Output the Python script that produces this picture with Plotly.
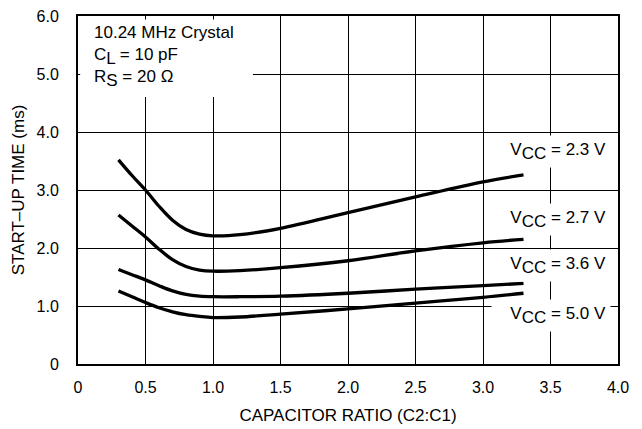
import plotly.graph_objects as go

# capacitor ratio C2:C1 (x) and start-up time in ms for each supply voltage
ratio = [0.3, 0.4, 0.5, 0.6, 0.7, 0.8, 0.9, 1.0, 1.2, 1.5, 2.0, 2.5, 3.0, 3.3]
t_vcc_23 = [3.52, 3.25, 3.00, 2.72, 2.48, 2.32, 2.24, 2.21, 2.23, 2.34, 2.61, 2.88, 3.14, 3.26]
t_vcc_27 = [2.57, 2.38, 2.19, 1.98, 1.80, 1.68, 1.62, 1.60, 1.61, 1.66, 1.78, 1.95, 2.09, 2.15]
t_vcc_36 = [1.63, 1.54, 1.45, 1.35, 1.26, 1.20, 1.17, 1.16, 1.16, 1.17, 1.22, 1.29, 1.35, 1.39]
t_vcc_50 = [1.26, 1.16, 1.06, 0.97, 0.90, 0.85, 0.82, 0.80, 0.81, 0.86, 0.95, 1.05, 1.15, 1.22]

series_names = ["2.3", "2.7", "3.6", "5.0"]
label_y = [3.67, 2.50, 1.69, 0.84]

x_ticks = [0, 0.5, 1.0, 1.5, 2.0, 2.5, 3.0, 3.5, 4.0]
x_ticktext = ["0", "0.5", "1.0", "1.5", "2.0", "2.5", "3.0", "3.5", "4.0"]
y_ticks = [0, 1, 2, 3, 4, 5, 6]
y_ticktext = ["0", "1.0", "2.0", "3.0", "4.0", "5.0", "6.0"]

FONT = "Liberation Sans, Arial, Helvetica, sans-serif"
SUB = "<sub><span style='font-size:17px'>{}</span></sub>"

fig = go.Figure()
for name, ys in zip(series_names, [t_vcc_23, t_vcc_27, t_vcc_36, t_vcc_50]):
    fig.add_trace(go.Scatter(x=ratio, y=ys, mode="lines", name=name,
                             line=dict(color="black", width=3.3, shape="spline", smoothing=1.0),
                             showlegend=False))

# white label boxes over the grid, like the datasheet
for name, yv in zip(series_names, label_y):
    fig.add_annotation(x=3.95, y=yv, xref="x", yref="y", xanchor="right", yanchor="middle",
                       text="V" + SUB.format("CC") + " = " + name + " V",
                       showarrow=False, bgcolor="white", borderpad=4, width=110, align="right",
                       font=dict(size=17, color="black", family=FONT))

fig.add_shape(type="rect", xref="paper", yref="paper", x0=0.004, x1=0.324, y0=0.767, y1=0.99,
              fillcolor="white", line_width=0, layer="above")
fig.add_annotation(x=0.026, y=0.985, xref="paper", yref="paper", xanchor="left", yanchor="top",
                   text="10.24 MHz Crystal<br>C" + SUB.format("L") + " = 10 pF<br>R" + SUB.format("S") + " = 20 Ω",
                   showarrow=False, align="left",
                   font=dict(size=17, color="black", family=FONT))

axis_style = dict(showline=True, linecolor="black", linewidth=2, mirror=True,
                  showgrid=True, gridcolor="black", gridwidth=1, zeroline=False,
                  ticks="", automargin=False,
                  tickfont=dict(size=16, color="black", family=FONT))

fig.update_xaxes(range=[0, 4.0], tickvals=x_ticks, ticktext=x_ticktext, ticklabelstandoff=8,
                 title=dict(text="CAPACITOR RATIO (C2:C1)", standoff=14,
                            font=dict(size=17, color="black", family=FONT)),
                 **axis_style)
fig.update_yaxes(range=[0, 6.0], tickvals=y_ticks, ticktext=y_ticktext, ticklabelstandoff=14,
                 title=dict(text="START–UP TIME (ms)", standoff=8,
                            font=dict(size=17, color="black", family=FONT)),
                 **axis_style)

fig.update_layout(width=642, height=429, margin=dict(l=78, r=24, t=16, b=65),
                  plot_bgcolor="white", paper_bgcolor="white",
                  font=dict(family=FONT, color="black"))

# drop the browser's default body margin so the figure fills the window
fig.write_html("out.html", config={"displayModeBar": False},
               post_script="document.body.style.margin = '0';")
